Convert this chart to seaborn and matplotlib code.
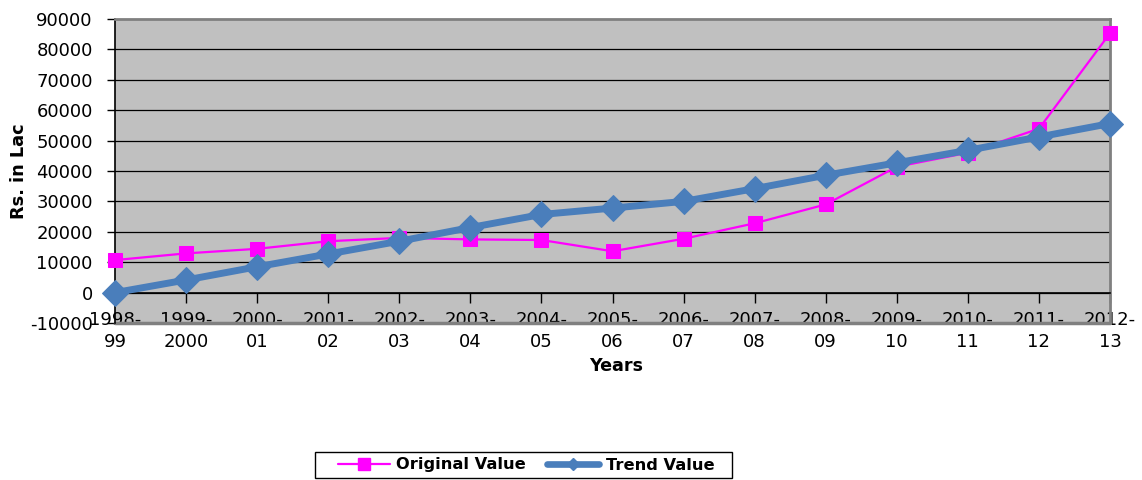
import matplotlib
matplotlib.use("Agg")
import matplotlib.pyplot as plt
from matplotlib.patches import Rectangle
from matplotlib.lines import Line2D
import seaborn as sns
import pandas as pd

years = ["1998-\n99", "1999-\n2000", "2000-\n01", "2001-\n02", "2002-\n03",
         "2003-\n04", "2004-\n05", "2005-\n06", "2006-\n07", "2007-\n08",
         "2008-\n09", "2009-\n10", "2010-\n11", "2011-\n12", "2012-\n13"]
original_value = [10700, 12900, 14400, 16900, 18000, 17500, 17300, 13600,
                  17700, 22800, 29000, 41400, 46000, 53900, 85300]
trend_value = [0, 4150, 8500, 12700, 16900, 21400, 25700, 27800,
               30000, 34200, 38600, 42700, 46800, 51200, 55600]
y_ticks = list(range(-10000, 90001, 10000))

MAGENTA = "#FF00FF"
BLUE = "#4A7EBB"

sns.set_style("white")
plt.rcParams["font.family"] = ["DejaVu Sans"]
plt.rcParams["text.color"] = "black"
plt.rcParams["xtick.color"] = "black"
plt.rcParams["ytick.color"] = "black"

df = pd.DataFrame({"pos": range(len(years)),
                   "Original Value": original_value,
                   "Trend Value": trend_value})

W, H = 1142, 480
fig = plt.figure(figsize=(W / 100, H / 100), dpi=100)
ax = fig.add_axes([115 / W, 1 - 323 / H, (1110 - 115) / W, (323 - 19) / H])
ax.set_facecolor("#C0C0C0")

# category axis crosses the value axis at zero
ax.spines["bottom"].set_position(("data", 0))

# gridlines at every 10000
for v in y_ticks[1:-1]:
    ax.axhline(v, color="black", lw=0.9, zorder=1)

sns.lineplot(data=df, x="pos", y="Original Value", ax=ax, color=MAGENTA,
             lw=1.6, marker="s", markersize=10, markeredgecolor=MAGENTA,
             zorder=3, sort=False, clip_on=False)
sns.lineplot(data=df, x="pos", y="Trend Value", ax=ax, color=BLUE,
             lw=5, marker="D", markersize=13, markeredgecolor=BLUE,
             zorder=4, sort=False, clip_on=False)

ax.set_xlim(0, len(years) - 1)
ax.set_ylim(-10000, 90000)
ax.set_yticks(y_ticks)
ax.set_yticklabels([str(v) for v in y_ticks])
ax.set_xticks(range(len(years)))
ax.set_xticklabels(years, linespacing=1.3)

ax.spines["bottom"].set_color("black")
ax.spines["bottom"].set_linewidth(1.2)
ax.spines["left"].set_color("black")
ax.spines["left"].set_linewidth(1.2)
for s in ("top", "right"):
    ax.spines[s].set_color("#808080")
    ax.spines[s].set_linewidth(2)
ax.axhline(-10000, color="#808080", lw=2.5, zorder=2, clip_on=False)

ax.tick_params(axis="x", direction="out", length=7, width=1, color="black",
               labelcolor="black", pad=6, labelsize=13, bottom=True)
ax.tick_params(axis="y", direction="out", length=6, width=1, color="black",
               labelcolor="black", pad=10, labelsize=13, left=True)

ax.set_xlabel("")
ax.set_ylabel("")
fig.text(19.5 / W, 1 - 171 / H, "Rs. in Lac", rotation=90, fontsize=12.8,
         fontweight="bold", ha="center", va="center")
fig.text(616 / W, 1 - 366 / H, "Years", fontsize=12.6, fontweight="bold",
         ha="center", va="center")

handles = [
    Line2D([], [], color=MAGENTA, lw=1.6, marker="s", markersize=8,
           markeredgecolor=MAGENTA),
    Line2D([], [], color=BLUE, lw=4.8, marker="D", markersize=6,
           markeredgecolor=BLUE),
]
labels = ["Original Value", "Trend Value"]
leg = fig.legend(handles, labels, loc="center", ncol=2,
                 bbox_to_anchor=(526 / W, 1 - 465 / H),
                 frameon=False, prop={"weight": "bold", "size": 11.7},
                 handlelength=3.2, columnspacing=1.3, handletextpad=0.4,
                 borderpad=0.25, borderaxespad=0)
# legend box
fig.patches.append(Rectangle((315 / W, 1 - 478 / H), (732 - 315) / W, (478 - 452) / H,
                             transform=fig.transFigure, facecolor="white",
                             edgecolor="black", lw=1.0, zorder=0))

fig.savefig("out.png", dpi=100)
